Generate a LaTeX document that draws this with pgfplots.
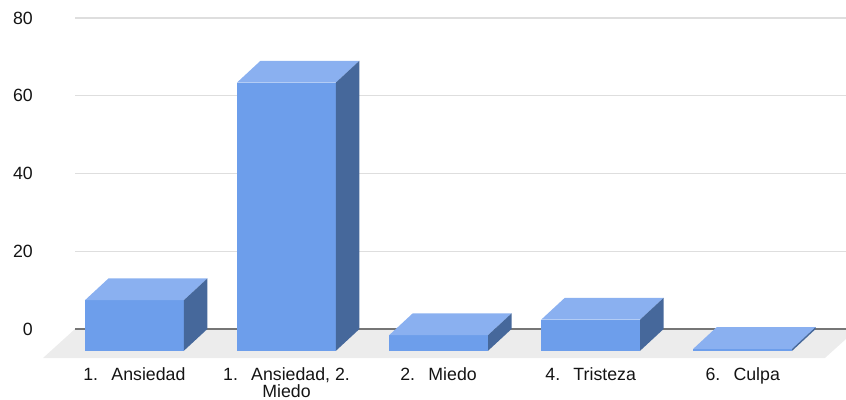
\documentclass[border=0pt]{standalone}
\usepackage{pgfplots}
\pgfplotsset{compat=1.18}
\usepackage{pgfplotstable}
\usepackage{fontspec}
\setmainfont{Liberation Sans}

\definecolor{barfront}{RGB}{109,158,235}
\definecolor{bartop}{RGB}{138,176,240}
\definecolor{barside}{RGB}{70,104,155}
\definecolor{floorgray}{RGB}{236,236,236}
\definecolor{gridgray}{RGB}{222,222,222}
\definecolor{zeroline}{RGB}{118,118,118}

% category position, count
\pgfplotstableread{
pos v
0 13
1 69
2 4
3 8
4 0.5
}\emociones

% depth of the boxes: horizontal offset (category units), vertical offset (value units)
\newcommand\depthx{0.15453}
\newcommand\depthy{5.6}
\newcommand\halfw{0.3252}

\newcommand\cube[2]{%
  \pgfmathsetmacro\xl{#1-\halfw}%
  \pgfmathsetmacro\xr{#1+\halfw}%
  \pgfmathsetmacro\xrb{\xr+\depthx}%
  \pgfmathsetmacro\xlb{\xl+\depthx}%
  \pgfmathsetmacro\yb{-\depthy}%
  \pgfmathsetmacro\yf{#2-\depthy}%
  \edef\faces{%
    \noexpand\addplot[fill=barfront, draw=none] coordinates {(\xl,\yb) (\xr,\yb) (\xr,\yf) (\xl,\yf)};
    \noexpand\addplot[fill=bartop, draw=none] coordinates {(\xl,\yf) (\xr,\yf) (\xrb,#2) (\xlb,#2)};
    \noexpand\addplot[fill=barside, draw=none] coordinates {(\xr,\yb) (\xrb,0) (\xrb,#2) (\xr,\yf)};
  }\faces}

\begin{document}
\begin{tikzpicture}
\begin{axis}[
  x=114.06pt, y=2.9156pt,
  xmin=-0.39058, xmax=4.6791,
  ymin=-7.46, ymax=80,
  clip=false,
  axis line style={draw=none},
  tick style={draw=none},
  ytick={0,20,40,60,80},
  ymajorgrids,
  grid style={gridgray, line width=1.1pt},
  xtick={0,1,2,3,4},
  xticklabels={
    {1.\hspace{0.75em}Ansiedad},
    {1.\hspace{0.75em}Ansiedad, 2.\\Miedo},
    {2.\hspace{0.75em}Miedo},
    {4.\hspace{0.75em}Tristeza},
    {6.\hspace{0.75em}Culpa}},
  xticklabel style={align=center, inner sep=0pt, yshift=-7.2pt,
    font=\fontsize{13.3}{10.9}\selectfont, text=black!92},
  yticklabel style={anchor=east, inner sep=0pt, xshift=-31.5pt,
    font=\fontsize{13.3}{15}\selectfont, text=black!92},
  /pgf/number format/assume math mode=true,
]
  % floor
  \addplot[fill=floorgray, draw=none] coordinates {
    (-0.60100,-7.46) (4.54077,-7.46) (4.6791,-2.57) (4.6791,0) (-0.39058,0)};
  % baseline
  \addplot[draw=zeroline, line width=1.1pt] coordinates {(-0.39058,0) (4.6791,0)};
  % boxes
  \pgfplotstablegetrowsof{\emociones}
  \pgfmathtruncatemacro\lastrow{\pgfplotsretval-1}
  \pgfplotsforeachungrouped \r in {0,...,\lastrow}{%
    \pgfplotstablegetelem{\r}{pos}\of\emociones \let\p\pgfplotsretval
    \pgfplotstablegetelem{\r}{v}\of\emociones \let\val\pgfplotsretval
    \cube{\p}{\val}%
  }
  \coordinate (bbsw) at (axis cs:-0.88375,-18.26);
  \coordinate (bbne) at (axis cs:4.6791,84.63);
\end{axis}
\pgfresetboundingbox
\useasboundingbox (bbsw) rectangle (bbne);
\end{tikzpicture}
\end{document}
